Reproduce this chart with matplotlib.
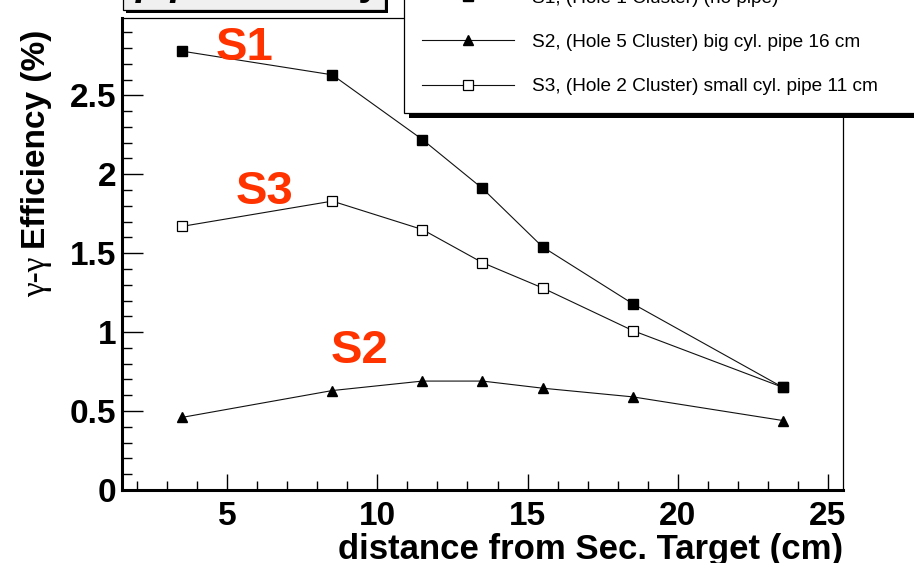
import matplotlib
matplotlib.use('Agg')
import matplotlib.pyplot as plt
from matplotlib.patches import Rectangle
from matplotlib.ticker import MultipleLocator

# distance from secondary target (cm)
distance = [3.5, 8.5, 11.5, 13.5, 15.5, 18.5, 23.5]
# gamma-gamma efficiency (%) for the three setups
eff_s1 = [2.78, 2.63, 2.22, 1.91, 1.54, 1.18, 0.65]
eff_s2 = [0.46, 0.63, 0.69, 0.69, 0.645, 0.59, 0.44]
eff_s3 = [1.67, 1.83, 1.65, 1.44, 1.28, 1.01, 0.65]

lab_s1 = 'S1, (Hole 1 Cluster) (no pipe)'
lab_s2 = 'S2, (Hole 5 Cluster) big cyl. pipe 16 cm'
lab_s3 = 'S3, (Hole 2 Cluster) small cyl. pipe 11 cm'

W, H = 914, 563
bold_font = ['Liberation Sans Narrow', 'Liberation Sans', 'DejaVu Sans']
plt.rcParams['font.family'] = ['Liberation Sans', 'DejaVu Sans']


def px(x, y):
    # pixel from top-left -> figure fraction
    return x / W, 1 - y / H


fig = plt.figure(figsize=(W / 100, H / 100), dpi=100)
ax = fig.add_axes([122 / W, 73 / H, (843 - 122) / W, (490 - 18) / H])

l2, = ax.plot(distance, eff_s2, color='#111111', lw=0.8, marker='^', ms=7,
              mfc='black', mec='black', label=lab_s2)
l3, = ax.plot(distance, eff_s3, color='#111111', lw=0.8, marker='s', ms=7.5,
              mfc='white', mec='black', mew=0.9, label=lab_s3)
l1, = ax.plot(distance, eff_s1, color='#111111', lw=0.8, marker='s', ms=7.5,
              mfc='black', mec='black', label=lab_s1)

ax.set_xlim(1.5, 25.5)
ax.set_ylim(0, 2.99)

ax.xaxis.set_major_locator(MultipleLocator(5))
ax.xaxis.set_minor_locator(MultipleLocator(1))
ax.yaxis.set_major_locator(MultipleLocator(0.5))
ax.yaxis.set_minor_locator(MultipleLocator(0.1))
ax.yaxis.set_major_formatter(plt.FuncFormatter(lambda v, p: '%g' % v))

ax.tick_params(axis='both', which='both', direction='in', top=False, right=False, width=1)
ax.tick_params(axis='y', which='major', length=15, pad=4)
ax.tick_params(axis='y', which='minor', length=7)
ax.tick_params(axis='x', which='major', length=11.5, pad=8)
ax.tick_params(axis='x', which='minor', length=6.5)
for t in ax.get_xticklabels() + ax.get_yticklabels():
    t.set_fontfamily(bold_font)
    t.set_fontweight('bold')
    t.set_fontsize(24)

ax.spines['left'].set_linewidth(2.2)
ax.spines['bottom'].set_linewidth(2.2)
ax.spines['right'].set_linewidth(0.9)
ax.spines['top'].set_linewidth(0.9)

ax.set_xlabel('distance from Sec. Target (cm)', fontsize=25, fontweight='bold',
              family=bold_font, loc='right', labelpad=1)

# y axis title: symbol part in normal weight, rest in bold
yx, yy = px(45, 30)
fig.text(yx, yy, 'Efficiency (%)', rotation=90, rotation_mode='anchor',
         fontsize=24, fontweight='bold', family=bold_font, ha='right', va='baseline')
yx, yy = px(45, 297)
fig.text(yx, yy, 'γ-γ', rotation=90, rotation_mode='anchor',
         fontsize=24, family=['Liberation Serif', 'DejaVu Serif'], ha='left', va='baseline')

# series tags
tag_color = '#ff3300'
ax.text(5.59, 2.80, 'S1', color=tag_color, fontsize=34, fontweight='bold',
        ha='center', va='center')
ax.text(6.26, 1.89, 'S3', color=tag_color, fontsize=34, fontweight='bold',
        ha='center', va='center')
ax.text(9.42, 0.88, 'S2', color=tag_color, fontsize=34, fontweight='bold',
        ha='center', va='center')

# title pad (mostly above the canvas)
x0, y0 = px(126, 13)
x1, y1 = px(388, -60)
fig.add_artist(Rectangle((x0, y0), x1 - x0, y1 - y0, transform=fig.transFigure,
                         facecolor='black', edgecolor='none', zorder=3))
x0, y0 = px(123, 10)
x1, y1 = px(385, -60)
fig.add_artist(Rectangle((x0, y0), x1 - x0, y1 - y0, transform=fig.transFigure,
                         facecolor='#f0f0f0', edgecolor='black', lw=0.9, zorder=3.5))
tx, ty = px(254, -5)
fig.text(tx, ty, 'γ-γ Efficiency', fontsize=28, fontweight='bold', family=bold_font,
         ha='center', va='baseline', zorder=4)

# legend shadow + legend
x0, y0 = px(409, 118)
x1, y1 = px(960, -80)
fig.add_artist(Rectangle((x0, y0), x1 - x0, y1 - y0, transform=fig.transFigure,
                         facecolor='black', edgecolor='none', zorder=4))
lx, ly = px(404, 113)
leg = fig.legend(handles=[l1, l2, l3], loc='lower left', mode='expand',
                 bbox_to_anchor=(lx, ly, 555 / W, 0.05), fontsize=13.7,
                 handlelength=4.85, handletextpad=0.95, borderpad=0.92,
                 labelspacing=1.42, borderaxespad=0, fancybox=False,
                 framealpha=1, edgecolor='black')
leg.get_frame().set_linewidth(0.9)
leg.set_zorder(5)

fig.savefig('out.png', dpi=100)
